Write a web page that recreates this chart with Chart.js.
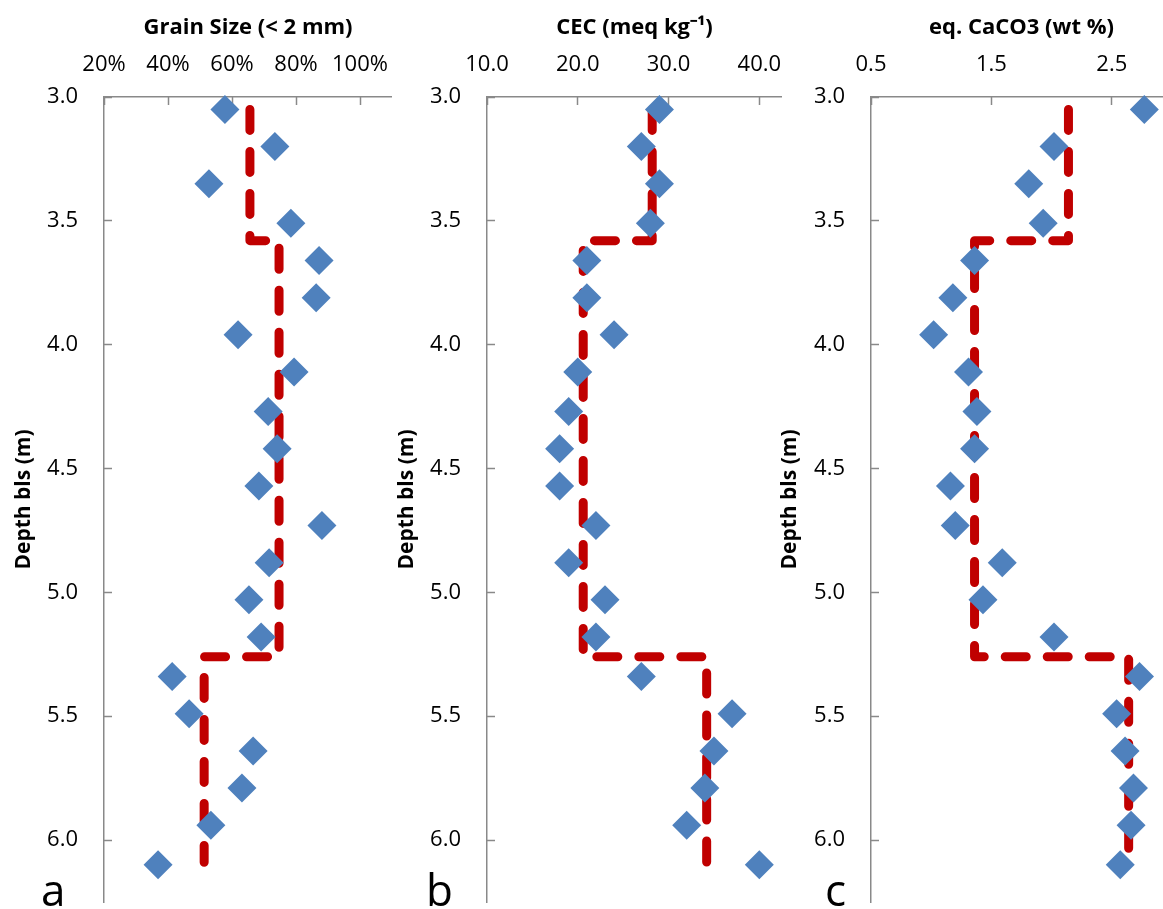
<!DOCTYPE html>
<html>
<head>
<meta charset="utf-8">
<title>Depth profiles</title>
<script src="https://cdn.jsdelivr.net/npm/chart.js@4.4.1/dist/chart.umd.min.js"></script>
<style>
  html, body { margin: 0; padding: 0; background: #fff; overflow: hidden; }
  body { width: 1163px; height: 909px; position: relative; }
  canvas { position: absolute; top: 0; }
  .panel-letter {
    position: absolute;
    top: 867px;
    font-family: 'Open Sans', sans-serif;
    font-size: 44px;
    line-height: 1;
    color: #000;
  }
</style>
</head>
<body>
<canvas id="chartA" width="392" height="909" style="left:0px"></canvas>
<canvas id="chartB" width="399" height="909" style="left:383px"></canvas>
<canvas id="chartC" width="406" height="909" style="left:766px"></canvas>
<div class="panel-letter" style="left:41px">a</div>
<div class="panel-letter" style="left:426px">b</div>
<div class="panel-letter" style="left:825px">c</div>

<script>
// Sample depths (m below land surface)
const depths = [3.05, 3.20, 3.35, 3.51, 3.66, 3.81, 3.96, 4.11, 4.27, 4.42, 4.57,
                4.73, 4.88, 5.03, 5.18, 5.34, 5.49, 5.64, 5.79, 5.94, 6.10];

// Measured values
const grainSize = [57.8, 73.4, 52.8, 78.4, 87.2, 86.3, 61.9, 79.4, 71.3, 74.1, 68.4,
                   88.1, 71.6, 65.3, 69.1, 41.3, 46.6, 66.6, 63.1, 53.4, 36.9];
const cec = [29, 27, 29, 28, 21, 21, 24, 20, 19, 18, 18,
             22, 19, 23, 22, 27, 37, 35, 34, 32, 40];
const caco3 = [2.77, 2.02, 1.81, 1.93, 1.36, 1.18, 1.02, 1.31, 1.38, 1.36, 1.16,
               1.20, 1.59, 1.43, 2.02, 2.73, 2.54, 2.61, 2.68, 2.66, 2.57];

// Layer boundaries and layer averages (dashed step line)
const layerBreaks = [3.05, 3.58, 5.26, 6.09];
const grainLevels = [65.6, 74.7, 51.3];
const cecLevels = [28.2, 20.6, 34.2];
const caco3Levels = [2.14, 1.36, 2.64];

// Tick labels
const depthTicks = [3.0, 3.5, 4.0, 4.5, 5.0, 5.5, 6.0];
const grainTicks = [20, 40, 60, 80, 100];
const cecTicks = [10, 20, 30, 40];
const caco3Ticks = [0.5, 1.5, 2.5];

const blue = '#4f81bd';
const red = '#c00000';
const axisGrey = '#898989';
const fontFamily = "'Open Sans', sans-serif";

Chart.defaults.font.family = fontFamily;
Chart.defaults.color = '#000';

function makePanel(id, cfg) {
    const ctx = document.getElementById(id).getContext('2d');

    // Step line vertices: one vertical run per layer
    const stepPoints = [];
    cfg.levels.forEach((lvl, i) => {
        stepPoints.push({ x: lvl, y: layerBreaks[i] });
        stepPoints.push({ x: lvl, y: layerBreaks[i + 1] });
    });

    return new Chart(ctx, {
        type: 'scatter',
        data: {
            datasets: [{
                data: cfg.values.map((v, i) => ({ x: v, y: depths[i] })),
                pointStyle: 'rectRot',
                pointRadius: 14.5,
                pointHoverRadius: 14.5,
                backgroundColor: blue,
                borderColor: blue,
                borderWidth: 0,
                clip: false,
                order: 1
            }, {
                data: stepPoints,
                showLine: true,
                pointRadius: 0,
                pointHoverRadius: 0,
                borderColor: red,
                borderWidth: 9,
                borderDash: [21, 21],
                borderCapStyle: 'round',
                borderJoinStyle: 'round',
                clip: false,
                order: 2
            }]
        },
        options: {
            responsive: false,
            animation: false,
            devicePixelRatio: 1,
            layout: {
                autoPadding: false,
                padding: { left: 0, top: 0, right: 0, bottom: 7 }
            },
            plugins: {
                legend: { display: false },
                tooltip: { enabled: false }
            },
            scales: {
                x: {
                    type: 'linear',
                    position: 'top',
                    min: cfg.min,
                    max: cfg.max,
                    afterBuildTicks: axis => {
                        axis.ticks = cfg.ticks.map(v => ({ value: v }));
                    },
                    afterFit: axis => {
                        axis.height = 97;
                        axis.paddingLeft = 0;
                        axis.paddingRight = 0;
                    },
                    ticks: {
                        padding: 27,
                        maxRotation: 0,
                        autoSkip: false,
                        font: { size: 22 },
                        callback: cfg.format
                    },
                    grid: {
                        drawOnChartArea: false,
                        tickLength: -8,
                        tickWidth: 1.5,
                        tickColor: axisGrey
                    },
                    border: { color: axisGrey, width: 1.5 },
                    title: {
                        display: true,
                        text: cfg.title,
                        font: { size: 22, weight: 'bold' },
                        padding: { top: 15, bottom: 0 }
                    }
                },
                y: {
                    type: 'linear',
                    reverse: true,
                    min: 3.0,
                    max: 6.25,
                    afterBuildTicks: axis => {
                        axis.ticks = depthTicks.map(v => ({ value: v }));
                    },
                    afterFit: axis => {
                        axis.width = cfg.yWidth;
                        axis.paddingTop = 0;
                        axis.paddingBottom = 0;
                    },
                    ticks: {
                        padding: 34,
                        autoSkip: false,
                        font: { size: 22 },
                        callback: v => v.toFixed(1)
                    },
                    grid: {
                        drawOnChartArea: false,
                        tickLength: -8,
                        tickWidth: 1.5,
                        tickColor: axisGrey
                    },
                    border: { color: axisGrey, width: 1.5 },
                    title: {
                        display: true,
                        text: 'Depth bls (m)',
                        font: { size: 21, weight: 'bold' },
                        padding: { top: 11, bottom: 0 }
                    }
                }
            }
        }
    });
}

// a - grain size
makePanel('chartA', {
    values: grainSize,
    levels: grainLevels,
    min: 20, max: 110,
    ticks: grainTicks,
    format: v => v + '%',
    title: 'Grain Size (< 2 mm)',
    yWidth: 104
});

// b - cation exchange capacity
makePanel('chartB', {
    values: cec,
    levels: cecLevels,
    min: 10, max: 42.5,
    ticks: cecTicks,
    format: v => v.toFixed(1),
    title: ['CEC (meq kg\u207B\u00B9)'],
    yWidth: 104
});

// c - carbonate
makePanel('chartC', {
    values: caco3,
    levels: caco3Levels,
    min: 0.5, max: 3.0,
    ticks: caco3Ticks,
    format: v => v.toFixed(1),
    title: 'eq. CaCO3 (wt %)',
    yWidth: 105
});
</script>
</body>
</html>
